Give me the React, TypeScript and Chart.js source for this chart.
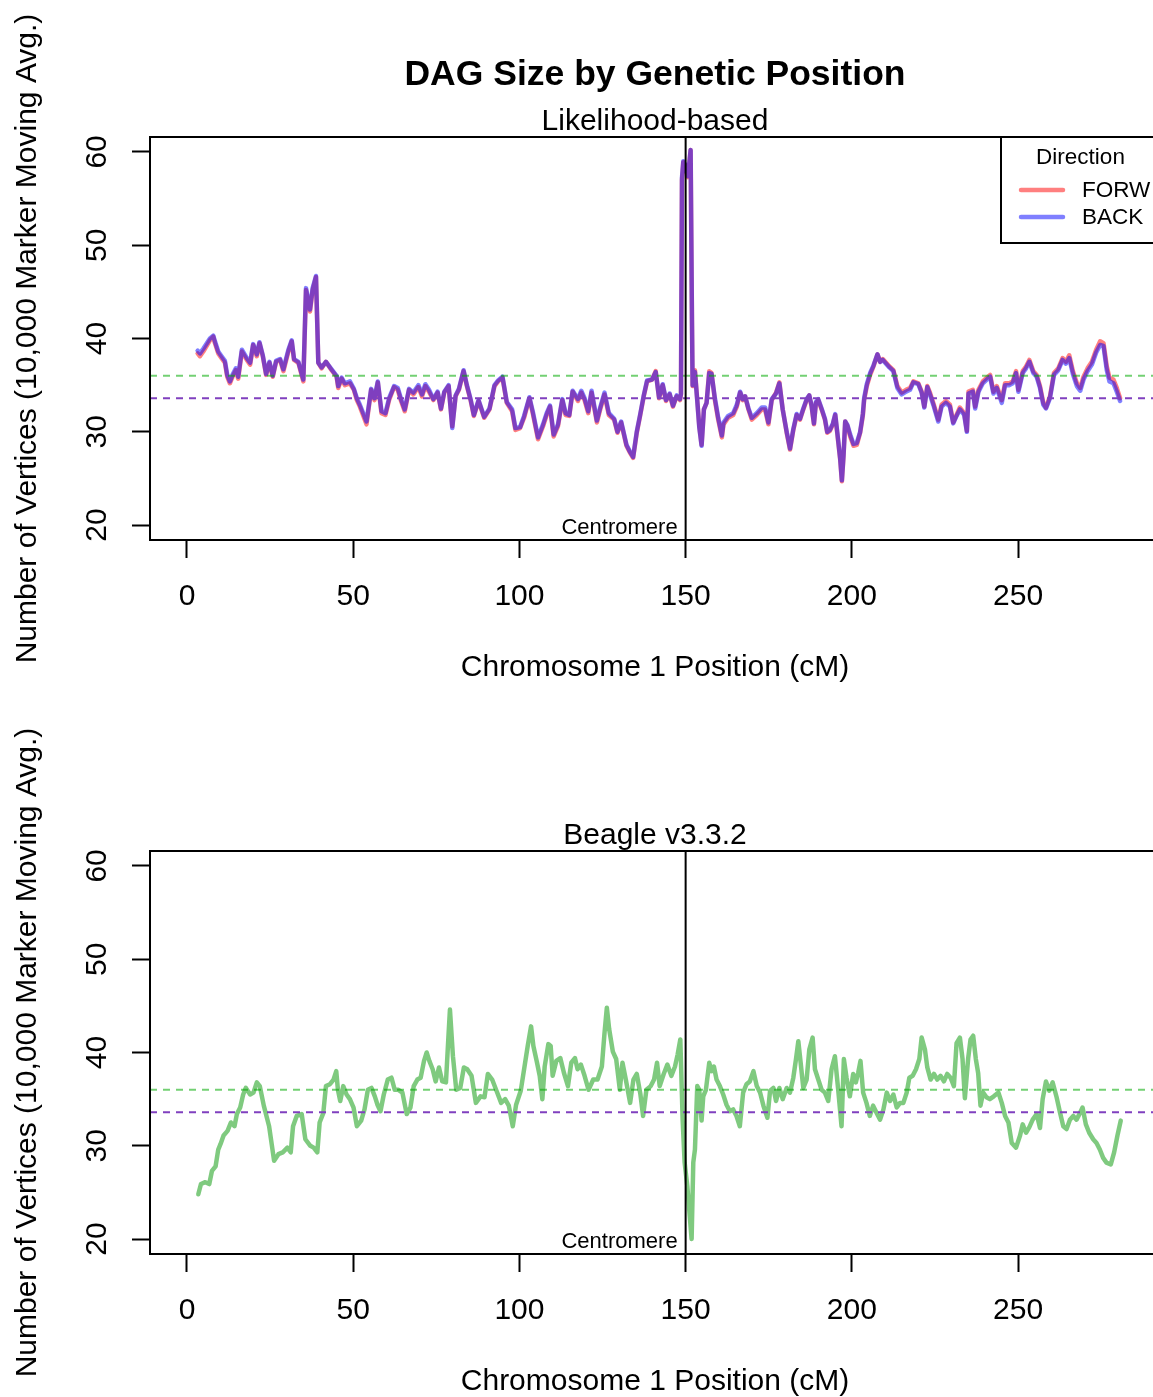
import React, { useEffect, useRef } from "react";
import { Chart, registerables } from "chart.js";
Chart.register(...registerables);

const FONT = '"Liberation Sans", Arial, Helvetica, sans-serif';

// ---- axes ----
const X_TICKS = [0, 50, 100, 150, 200, 250];
const Y_TICKS = [20, 30, 40, 50, 60];
const X_MIN = -11.13;
const X_MAX = 292.7;
const Y_MIN = 18.4;
const Y_MAX = 61.6;

// ---- reference lines ----
const GREEN_REF = 36.0;
const PURPLE_REF = 33.6;
const CENTROMERE = 150;

// ---- Likelihood-based panel (FORW / BACK) ----
const TOP_X = [
  3.2, 3.9, 4.9, 6.9, 7.9, 8.4, 9.4, 10.4, 11.4, 12.1,
  12.9, 13.7, 14.7, 15.4, 16.5, 18.0, 19.0, 19.9, 21.0, 21.8,
  22.8, 23.8, 24.8, 25.8, 26.8, 28.0, 29.0, 30.5, 31.5, 32.2,
  33.5, 35.0, 35.8, 37.0, 37.8, 38.8, 39.5, 40.5, 41.8, 43.5,
  45.0, 45.5, 46.5, 47.5, 49.0, 50.2, 51.1, 52.0, 54.0, 55.4,
  56.4, 57.4, 58.5, 59.7, 60.8, 62.3, 63.4, 64.4, 65.5, 66.8,
  68.1, 69.6, 70.7, 71.7, 72.8, 74.1, 75.4, 76.4, 77.4, 78.7,
  79.8, 80.8, 81.8, 83.2, 84.2, 85.3, 86.3, 87.7, 89.4, 91.0,
  92.5, 93.6, 94.9, 96.2, 97.8, 98.8, 100.2, 101.4, 103.0, 104.0,
  105.6, 107.1, 108.2, 109.2, 110.3, 111.6, 112.9, 113.9, 115.0, 116.0,
  117.6, 118.6, 119.6, 120.7, 121.7, 123.3, 124.3, 125.6, 126.9, 128.5,
  129.5, 130.6, 132.2, 133.2, 134.2, 135.3, 136.3, 137.4, 138.4, 139.9,
  141.0, 142.0, 143.1, 144.1, 145.2, 146.2, 147.3, 148.3, 148.6, 148.9,
  149.3, 149.8, 150.7, 151.5, 151.9, 152.1, 152.8, 153.5, 154.1, 154.8,
  155.5, 156.3, 157.1, 157.8, 158.8, 159.8, 160.9, 161.4, 162.8, 164.3,
  165.4, 166.4, 167.2, 167.9, 168.9, 169.9, 171.4, 172.9, 173.9, 174.9,
  175.9, 177.2, 178.2, 179.2, 180.4, 181.4, 182.4, 183.4, 184.4, 185.4,
  186.4, 187.2, 187.9, 188.6, 189.2, 189.9, 190.9, 191.9, 192.6, 193.4,
  194.3, 195.0, 195.6, 196.5, 197.0, 197.5, 198.0, 198.7, 199.5, 200.5,
  201.5, 202.5, 203.3, 203.7, 204.5, 205.5, 206.5, 207.7, 208.5, 209.3,
  210.3, 211.3, 212.5, 213.7, 215.0, 216.3, 217.5, 218.5, 220.0, 221.0,
  221.8, 222.7, 223.5, 224.5, 226.0, 227.0, 228.3, 229.5, 230.5, 231.5,
  232.5, 233.8, 234.6, 235.1, 236.4, 237.1, 238.1, 239.4, 240.6, 241.6,
  242.6, 243.6, 245.1, 246.1, 247.4, 248.4, 249.4, 250.1, 251.4, 252.4,
  253.4, 254.6, 255.6, 256.6, 257.6, 258.4, 259.6, 260.8, 262.1, 263.4,
  264.4, 265.4, 266.5, 267.7, 268.7, 269.7, 270.9, 272.2, 273.5, 274.7,
  275.7, 276.7, 277.5, 278.7, 279.7, 280.7,
];

const FORW = [
  38.4, 38.1, 38.6, 39.8, 40.2, 39.5, 38.4, 37.9, 37.4, 35.9,
  35.2, 35.9, 36.6, 35.7, 38.6, 37.7, 37.2, 39.3, 38.1, 39.5,
  38.1, 36.1, 37.4, 35.9, 37.5, 37.7, 36.5, 38.6, 39.7, 37.7,
  37.4, 35.4, 45.2, 42.9, 45.2, 46.6, 37.4, 36.8, 37.5, 36.6,
  35.9, 34.7, 35.7, 35.0, 35.2, 34.5, 33.4, 32.7, 30.8, 34.5,
  33.4, 35.3, 32.0, 31.8, 33.4, 34.8, 34.5, 33.3, 32.2, 34.5,
  34.0, 34.8, 33.8, 34.9, 34.3, 33.4, 34.2, 32.4, 34.2, 34.9,
  30.6, 33.8, 34.5, 36.5, 34.9, 33.4, 31.7, 33.3, 31.5, 32.4,
  34.9, 35.4, 35.8, 33.1, 32.2, 30.2, 30.4, 31.5, 33.6, 32.0,
  29.2, 30.6, 31.8, 32.7, 29.5, 30.6, 33.4, 31.8, 31.7, 34.3,
  33.3, 34.2, 33.4, 32.0, 34.2, 31.0, 32.4, 34.0, 31.8, 31.3,
  29.9, 31.0, 28.5, 27.8, 27.2, 29.9, 31.7, 33.8, 35.4, 35.6,
  36.5, 33.6, 35.0, 33.3, 34.0, 32.7, 33.8, 33.4, 34.0, 57.0,
  58.9, 58.6, 57.3, 60.2, 42.0, 34.9, 36.6, 33.4, 30.6, 28.6,
  32.4, 33.1, 36.5, 36.3, 33.4, 31.3, 29.4, 30.8, 31.5, 31.8,
  32.7, 34.2, 33.4, 33.8, 32.4, 31.3, 31.8, 32.4, 32.4, 30.8,
  33.4, 34.2, 35.3, 32.4, 29.9, 28.1, 30.2, 31.8, 31.3, 32.4,
  33.4, 33.9, 32.7, 30.8, 33.1, 33.4, 32.4, 31.3, 29.9, 30.1,
  30.8, 31.8, 29.9, 27.0, 24.7, 27.4, 31.1, 30.6, 29.5, 28.5,
  28.6, 29.9, 31.7, 33.4, 34.9, 36.1, 37.0, 38.3, 37.5, 37.8,
  37.4, 37.0, 36.6, 34.9, 34.2, 34.5, 34.7, 35.4, 35.2, 34.3,
  32.7, 34.9, 34.2, 33.1, 31.3, 32.9, 33.3, 32.9, 31.0, 31.8,
  32.6, 32.0, 30.1, 34.3, 34.5, 32.7, 34.5, 35.4, 35.8, 36.1,
  34.3, 34.9, 33.4, 35.2, 35.2, 35.4, 36.5, 34.5, 36.5, 37.0,
  37.7, 36.5, 36.1, 34.9, 33.1, 32.6, 33.8, 36.3, 36.8, 37.9,
  37.5, 38.2, 36.5, 35.2, 34.7, 35.9, 36.8, 37.5, 38.8, 39.7,
  39.5, 37.0, 35.8, 35.6, 34.7, 33.6,
];

const BACK = [
  38.7, 38.4, 38.9, 40.0, 40.3, 39.7, 38.6, 38.1, 37.6, 36.1,
  35.4, 36.1, 36.8, 35.9, 38.8, 37.9, 37.4, 39.4, 38.3, 39.6,
  38.2, 36.2, 37.5, 36.0, 37.6, 37.8, 36.7, 38.8, 39.8, 37.8,
  37.5, 35.6, 45.4, 43.1, 45.4, 46.7, 37.4, 36.9, 37.5, 36.7,
  36.0, 34.9, 35.8, 35.2, 35.4, 34.6, 33.6, 32.9, 31.1, 34.6,
  33.6, 35.4, 32.2, 32.0, 33.6, 34.9, 34.7, 33.5, 32.4, 34.6,
  34.2, 35.0, 34.0, 35.1, 34.5, 33.5, 34.3, 32.5, 34.3, 35.0,
  30.4, 33.9, 34.6, 36.6, 35.0, 33.5, 31.8, 33.4, 31.6, 32.5,
  35.0, 35.5, 35.9, 33.2, 32.4, 30.4, 30.5, 31.7, 33.7, 32.2,
  29.4, 30.8, 32.0, 32.8, 29.7, 30.8, 33.5, 32.0, 31.8, 34.4,
  33.5, 34.4, 33.6, 32.2, 34.4, 31.2, 32.6, 34.2, 32.0, 31.4,
  30.0, 31.1, 28.6, 27.9, 27.3, 30.0, 31.8, 33.9, 35.5, 35.6,
  36.4, 33.7, 35.1, 33.4, 34.1, 32.8, 33.9, 33.5, 34.1, 57.2,
  59.0, 58.7, 57.4, 60.2, 42.0, 35.0, 36.4, 33.3, 30.5, 28.5,
  32.4, 33.1, 36.3, 36.2, 33.6, 31.5, 29.6, 31.0, 31.7, 32.0,
  32.9, 34.3, 33.5, 33.8, 32.5, 31.5, 32.0, 32.6, 32.6, 31.0,
  33.5, 34.1, 35.2, 32.4, 30.0, 28.2, 30.3, 31.9, 31.4, 32.5,
  33.5, 33.9, 32.8, 30.9, 33.2, 33.5, 32.5, 31.4, 30.0, 30.2,
  30.9, 31.9, 30.0, 27.1, 24.8, 27.5, 31.1, 30.7, 29.7, 28.7,
  28.8, 30.0, 31.9, 33.6, 35.1, 36.3, 37.1, 38.3, 37.5, 37.7,
  37.3, 36.9, 36.5, 34.7, 34.0, 34.3, 34.5, 35.3, 35.1, 34.2,
  32.6, 34.8, 34.0, 32.9, 31.1, 32.7, 33.1, 32.7, 30.9, 31.7,
  32.4, 31.8, 30.0, 34.1, 34.3, 32.5, 34.3, 35.2, 35.6, 35.9,
  34.1, 34.7, 33.1, 35.0, 35.0, 35.2, 36.3, 34.3, 36.3, 36.8,
  37.5, 36.3, 35.9, 34.7, 32.9, 32.5, 33.6, 36.1, 36.6, 37.7,
  37.3, 37.9, 36.2, 34.9, 34.4, 35.6, 36.5, 37.2, 38.5, 39.3,
  39.2, 36.6, 35.4, 35.2, 34.3, 33.3,
];

// ---- Beagle v3.3.2 panel ----
const BEAGLE_X = [
  3.4, 4.2, 5.5, 6.7, 7.5, 8.6, 9.4, 10.1, 11.0, 12.2,
  13.2, 14.3, 15.0, 16.0, 16.9, 17.7, 19.0, 20.0, 21.0, 21.9,
  23.1, 24.7, 26.2, 27.5, 28.8, 30.2, 31.2, 31.9, 33.0, 34.5,
  35.6, 37.1, 38.1, 39.2, 39.9, 41.0, 41.8, 43.0, 44.1, 44.9,
  45.4, 46.1, 47.0, 48.0, 49.0, 50.1, 51.1, 52.4, 53.4, 54.4,
  55.5, 56.5, 57.3, 58.2, 59.2, 60.4, 61.5, 62.5, 63.6, 64.8,
  66.1, 67.2, 68.2, 69.3, 70.3, 71.3, 72.1, 72.9, 73.9, 74.8,
  75.8, 76.8, 77.9, 78.6, 79.1, 80.0, 81.0, 82.2, 83.3, 84.3,
  85.6, 86.9, 88.3, 89.5, 90.5, 91.8, 93.1, 94.5, 95.7, 96.8,
  98.0, 99.0, 100.4, 101.4, 102.5, 103.5, 104.2, 105.3, 106.1, 106.9,
  107.6, 108.7, 109.4, 110.0, 111.1, 112.3, 113.4, 114.6, 115.6, 116.7,
  117.5, 118.5, 119.6, 120.8, 122.2, 123.5, 124.8, 125.6, 126.3, 127.0,
  128.1, 129.1, 130.2, 131.0, 132.0, 133.3, 134.3, 135.3, 136.4, 137.2,
  138.2, 139.5, 140.5, 141.4, 142.2, 143.4, 144.5, 145.7, 146.8, 147.6,
  148.4, 149.1, 149.7, 150.5, 151.8, 152.3, 152.8, 153.5, 154.1, 154.8,
  155.3, 156.1, 157.1, 157.8, 158.5, 159.3, 160.3, 161.3, 162.3, 163.3,
  164.3, 165.3, 166.3, 167.3, 168.3, 169.3, 170.4, 171.4, 172.4, 173.4,
  174.6, 175.4, 176.4, 177.2, 178.2, 179.2, 180.4, 181.4, 182.4, 183.2,
  183.9, 184.6, 185.4, 186.4, 187.2, 188.2, 188.9, 189.9, 190.9, 191.9,
  192.9, 193.9, 194.9, 195.9, 196.9, 197.6, 198.4, 199.4, 200.4, 201.2,
  201.9, 202.6, 203.4, 204.4, 205.4, 206.4, 207.5, 208.5, 209.5, 210.5,
  211.5, 212.5, 213.5, 214.5, 215.5, 216.5, 217.3, 218.3, 219.3, 220.3,
  221.0, 222.0, 222.7, 223.7, 224.7, 225.7, 226.7, 227.7, 228.7, 229.7,
  230.7, 231.5, 232.5, 233.3, 234.0, 235.0, 235.7, 236.5, 237.3, 238.0,
  238.7, 239.5, 240.5, 241.5, 242.7, 244.1, 245.1, 246.1, 247.1, 248.1,
  249.4, 250.6, 251.4, 252.4, 253.4, 254.4, 255.6, 256.6, 257.4, 258.4,
  259.4, 260.4, 261.6, 262.6, 263.6, 264.6, 265.6, 266.6, 267.6, 268.6,
  269.4, 270.4, 271.4, 272.6, 273.6, 274.6, 275.6, 276.6, 277.9, 278.9,
  279.9, 280.9,
];

const BEAGLE = [
  24.8, 25.9, 26.1, 25.9, 27.3, 27.8, 29.6, 30.2, 31.1, 31.6,
  32.5, 32.1, 33.4, 34.1, 35.5, 36.2, 35.5, 35.7, 36.8, 36.4,
  34.3, 32.1, 28.4, 29.1, 29.3, 29.8, 29.3, 32.1, 33.2, 33.4,
  30.7, 30.0, 29.8, 29.3, 32.5, 33.5, 36.4, 36.6, 37.1, 38.0,
  36.0, 34.8, 36.4, 35.5, 35.0, 34.1, 32.1, 32.7, 33.9, 36.0,
  36.2, 35.3, 34.4, 33.7, 35.5, 37.1, 37.3, 36.0, 36.0, 35.7,
  33.4, 34.1, 36.4, 37.1, 37.3, 39.1, 40.0, 39.1, 38.2, 36.9,
  38.4, 36.9, 36.8, 41.4, 44.6, 39.6, 36.0, 36.2, 38.4, 38.2,
  37.5, 34.6, 35.3, 35.2, 37.7, 37.1, 35.9, 34.6, 35.0, 34.3,
  32.1, 34.4, 35.9, 38.2, 40.7, 42.8, 40.7, 38.9, 37.5, 35.0,
  38.5, 40.9, 40.7, 37.5, 39.1, 39.4, 37.8, 36.4, 38.9, 39.4,
  38.2, 38.7, 37.5, 36.0, 37.1, 37.1, 38.5, 42.1, 44.8, 42.5,
  40.1, 39.3, 36.0, 38.9, 37.1, 34.6, 37.1, 37.7, 35.5, 33.2,
  36.0, 36.4, 37.1, 38.9, 36.4, 37.7, 38.7, 37.5, 38.5, 39.8,
  41.4, 32.8, 28.2, 25.7, 20.0, 28.2, 29.6, 36.4, 36.0, 32.7,
  35.3, 36.0, 38.9, 38.0, 38.5, 37.1, 36.4, 35.5, 34.4, 33.7,
  33.9, 33.2, 32.1, 35.7, 36.6, 36.9, 38.0, 36.4, 35.7, 34.3,
  33.0, 35.9, 36.2, 34.8, 36.2, 35.0, 36.2, 35.7, 37.3, 39.3,
  41.2, 38.9, 36.2, 37.1, 40.3, 41.6, 38.2, 37.1, 36.0, 35.7,
  34.8, 38.2, 39.6, 36.0, 32.1, 39.3, 37.3, 35.3, 37.7, 36.8,
  37.8, 39.1, 35.7, 34.6, 33.2, 34.3, 33.5, 32.8, 33.9, 35.7,
  34.8, 35.5, 34.1, 34.6, 34.6, 35.7, 37.3, 37.5, 38.2, 39.3,
  41.6, 40.3, 38.4, 37.1, 37.7, 37.1, 37.5, 36.9, 37.7, 37.3,
  36.4, 41.0, 41.6, 39.3, 35.1, 39.4, 41.4, 41.8, 39.3, 37.8,
  34.3, 35.7, 35.2, 35.0, 35.3, 35.7, 34.6, 33.2, 32.5, 30.3,
  29.8, 31.1, 32.3, 31.4, 32.0, 32.8, 33.4, 31.9, 35.0, 36.9,
  35.9, 36.8, 35.2, 33.6, 32.1, 31.8, 32.8, 33.2, 32.8, 33.5,
  34.1, 32.3, 31.4, 30.7, 30.3, 29.6, 28.7, 28.2, 28.0, 29.3,
  31.1, 32.7,
];

const LEGEND_LABELS = ["FORW", "BACK"];

// ---- colours ----
const FORW_COLOR = "rgba(255,0,0,0.5)";
const BACK_COLOR = "rgba(0,0,255,0.5)";
const BEAGLE_COLOR = "rgba(0,150,0,0.5)";
const GREEN_DASH = "rgba(0,170,0,0.55)";
const PURPLE_DASH = "rgb(128,64,191)";

type Series = { label: string; xs: number[]; ys: number[]; color: string };
type Panel = {
  height: number;
  plotTop: number;
  bottomSpace: number;
  title?: string;
  subtitle: string;
  legend: boolean;
  series: Series[];
};

const PLOT_LEFT = 150;

const TOP_PANEL: Panel = {
  height: 698,
  plotTop: 137,
  bottomSpace: 158,
  title: "DAG Size by Genetic Position",
  subtitle: "Likelihood-based",
  legend: true,
  // FORW drawn first, BACK on top
  series: [
    { label: "BACK", xs: TOP_X, ys: BACK, color: BACK_COLOR },
    { label: "FORW", xs: TOP_X, ys: FORW, color: FORW_COLOR },
  ],
};

const BOTTOM_PANEL: Panel = {
  height: 699,
  plotTop: 153,
  bottomSpace: 143,
  subtitle: "Beagle v3.3.2",
  legend: false,
  series: [{ label: "Beagle", xs: BEAGLE_X, ys: BEAGLE, color: BEAGLE_COLOR }],
};

function panelPlugin(p: Panel) {
  return {
    id: "rpanel",
    afterDatasetsDraw(chart: any) {
      const { ctx, chartArea: a, scales } = chart;
      const xs = scales.x;
      const ys = scales.y;
      const cx = (a.left + a.right) / 2;

      // reference lines (clipped)
      ctx.save();
      ctx.beginPath();
      ctx.rect(a.left, a.top, a.right - a.left, a.bottom - a.top);
      ctx.clip();
      ctx.lineWidth = 2;
      ctx.setLineDash([7, 6]);
      ctx.strokeStyle = GREEN_DASH;
      let yy = ys.getPixelForValue(GREEN_REF);
      ctx.beginPath();
      ctx.moveTo(a.left, yy);
      ctx.lineTo(a.right, yy);
      ctx.stroke();
      ctx.strokeStyle = PURPLE_DASH;
      yy = ys.getPixelForValue(PURPLE_REF);
      ctx.beginPath();
      ctx.moveTo(a.left, yy);
      ctx.lineTo(a.right, yy);
      ctx.stroke();
      ctx.setLineDash([]);
      // centromere
      const cxp = xs.getPixelForValue(CENTROMERE);
      ctx.strokeStyle = "#000";
      ctx.lineWidth = 2;
      ctx.beginPath();
      ctx.moveTo(cxp, a.top);
      ctx.lineTo(cxp, a.bottom);
      ctx.stroke();
      ctx.restore();

      ctx.save();
      ctx.fillStyle = "#000";
      // centromere label
      ctx.font = `22px ${FONT}`;
      ctx.textAlign = "right";
      ctx.textBaseline = "middle";
      ctx.fillText("Centromere", cxp - 8, a.bottom - 12);

      // box
      ctx.strokeStyle = "#000";
      ctx.lineWidth = 2;
      ctx.strokeRect(a.left, a.top, a.right - a.left, a.bottom - a.top);

      // y tick labels (rotated, R style)
      ctx.font = `30px ${FONT}`;
      ctx.textAlign = "center";
      ctx.textBaseline = "middle";
      ys.ticks.forEach((t: any) => {
        const py = ys.getPixelForValue(t.value);
        ctx.save();
        ctx.translate(a.left - 52, py);
        ctx.rotate(-Math.PI / 2);
        ctx.fillText(String(t.value), 0, 0);
        ctx.restore();
      });

      // axis titles
      ctx.fillText("Chromosome 1 Position (cM)", cx, a.bottom + 128);
      ctx.save();
      ctx.translate(a.left - 122, (a.top + a.bottom) / 2);
      ctx.rotate(-Math.PI / 2);
      ctx.fillText("Number of Vertices (10,000 Marker Moving Avg.)", 0, 0);
      ctx.restore();

      // subtitle + title
      ctx.fillText(p.subtitle, cx, a.top - 15);
      if (p.title) {
        ctx.font = `bold 35.5px ${FONT}`;
        ctx.fillText(p.title, cx, a.top - 62);
      }

      // legend
      if (p.legend) {
        const lw = 159;
        const lh = 106;
        const lx = a.right - lw;
        const ly = a.top;
        ctx.fillStyle = "#fff";
        ctx.fillRect(lx, ly, lw, lh);
        ctx.strokeStyle = "#000";
        ctx.lineWidth = 2;
        ctx.strokeRect(lx, ly, lw, lh);
        ctx.fillStyle = "#000";
        ctx.font = `22.5px ${FONT}`;
        ctx.textAlign = "center";
        ctx.fillText("Direction", lx + lw / 2, ly + 21);
        const cols = [FORW_COLOR, BACK_COLOR];
        LEGEND_LABELS.forEach((lab, i) => {
          const y = ly + 53 + i * 27;
          ctx.strokeStyle = cols[i];
          ctx.lineWidth = 4.5;
          ctx.lineCap = "round";
          ctx.beginPath();
          ctx.moveTo(lx + 20, y);
          ctx.lineTo(lx + 62, y);
          ctx.stroke();
          ctx.fillStyle = "#000";
          ctx.textAlign = "left";
          ctx.fillText(lab, lx + 81, y + 1);
        });
      }
      ctx.restore();
    },
  };
}

function makeConfig(p: Panel): any {
  return {
    type: "line",
    data: {
      datasets: p.series.map((s) => ({
        label: s.label,
        data: s.xs.map((x, i) => ({ x, y: s.ys[i] })),
        borderColor: s.color,
        borderWidth: 4.5,
        pointRadius: 0,
        fill: false,
        tension: 0,
        borderJoinStyle: "round",
        borderCapStyle: "round",
      })),
    },
    options: {
      responsive: false,
      animation: false,
      devicePixelRatio: 1,
      events: [],
      layout: { padding: { top: p.plotTop, left: 0, right: 0, bottom: 0 } },
      plugins: {
        legend: { display: false },
        tooltip: { enabled: false },
        title: { display: false },
      },
      scales: {
        x: {
          type: "linear",
          min: X_MIN,
          max: X_MAX,
          afterBuildTicks: (s: any) => {
            s.ticks = X_TICKS.map((v) => ({ value: v }));
          },
          afterFit: (s: any) => {
            s.height = p.bottomSpace;
          },
          grid: {
            display: true,
            drawOnChartArea: false,
            drawTicks: true,
            tickLength: 18,
            tickWidth: 2,
            tickColor: "#000",
            color: "#000",
          },
          border: { display: true, color: "#000", width: 2 },
          ticks: {
            color: "#000",
            font: { family: FONT, size: 30 },
            padding: 21,
            maxRotation: 0,
            minRotation: 0,
            autoSkip: false,
            callback: (v: any) => String(v),
          },
        },
        y: {
          type: "linear",
          min: Y_MIN,
          max: Y_MAX,
          afterBuildTicks: (s: any) => {
            s.ticks = Y_TICKS.map((v) => ({ value: v }));
          },
          afterFit: (s: any) => {
            s.width = PLOT_LEFT;
          },
          grid: {
            display: true,
            drawOnChartArea: false,
            drawTicks: true,
            tickLength: 18,
            tickWidth: 2,
            tickColor: "#000",
            color: "#000",
          },
          border: { display: true, color: "#000", width: 2 },
          ticks: { display: false },
        },
      },
    },
    plugins: [panelPlugin(p)],
  };
}

export default function App() {
  const topRef = useRef<HTMLCanvasElement>(null);
  const botRef = useRef<HTMLCanvasElement>(null);
  useEffect(() => {
    const c1 = new Chart(topRef.current as HTMLCanvasElement, makeConfig(TOP_PANEL));
    const c2 = new Chart(botRef.current as HTMLCanvasElement, makeConfig(BOTTOM_PANEL));
    return () => {
      c1.destroy();
      c2.destroy();
    };
  }, []);
  return (
    <div
      style={{
        position: "absolute",
        left: 0,
        top: 0,
        width: 1153,
        height: 1397,
        overflow: "hidden",
        background: "#fff",
      }}
    >
      <canvas ref={topRef} width={1160} height={TOP_PANEL.height} style={{ display: "block" }} />
      <canvas ref={botRef} width={1160} height={BOTTOM_PANEL.height} style={{ display: "block" }} />
    </div>
  );
}
